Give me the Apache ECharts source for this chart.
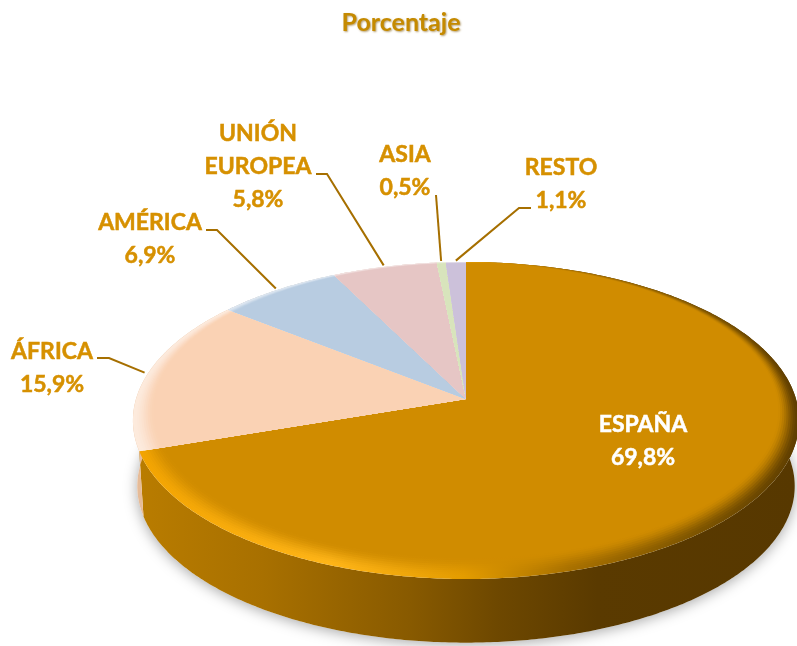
<!DOCTYPE html>
<html>
<head>
<meta charset="utf-8">
<style>html,body{margin:0;padding:0;background:#fff}#chart{width:797px;height:646px}</style>
<script src="https://cdn.jsdelivr.net/npm/echarts@6/dist/echarts.min.js"></script>
</head>
<body>
<div id="chart"></div>
<script>
var categories = ['ESPAÑA', 'ÁFRICA', 'AMÉRICA', 'UNIÓN\nEUROPEA', 'ASIA', 'RESTO'];
var values = [69.8, 15.9, 6.9, 5.8, 0.5, 1.1];
var colors = ['#d08c00', '#fad2b4', '#b8cce1', '#e6c6c5', '#d8e4bc', '#ccc1da'];
var labelColor = '#d69000';

// pixel layout of the tilted disc
var cx = 466, cy = 399, rx = 330, ry = 155.6, tilt = 0.1356;
var depth = 66, lowScale = 0.987;

// label centre and leader elbow/end, by slice
var labelSpots = [
  { x: 643, y: 441 },
  { x: 52, y: 368, elbow: [109, 358], end: [97, 358] },
  { x: 150, y: 239, elbow: [217, 230], end: [206, 230] },
  { x: 258, y: 167, elbow: [327, 174], end: [316, 174] },
  { x: 405, y: 171, end: [436, 195] },
  { x: 561, y: 184, elbow: [519, 208], end: [531, 208] }
];

var total = values.reduce(function (a, b) { return a + b; }, 0);
var starts = [];
values.reduce(function (sum, v, i) { starts[i] = sum; return sum + v; }, 0);

function angle(p) { return p / total * Math.PI * 2; }

function project(t, r, low) {
  var u = Math.sin(t) * r, v = -Math.cos(t) * r;
  var w = 1 - tilt * v;
  var s = low ? lowScale : 1;
  return [cx + s * rx * u / w, cy + (low ? depth : 0) + s * ry * v / w];
}

// f: how far inside the bevel (0 = outer edge, 1 = inner edge)
function arcPoints(a, b, r, low, f) {
  var n = Math.max(2, Math.ceil(Math.abs(b - a) / 0.01));
  var pts = [];
  for (var i = 0; i <= n; i++) {
    var t = a + (b - a) * i / n;
    var bevel = f ? f * (0.012 + 0.045 * (1 - Math.cos(t))) : 0;
    pts.push(project(t, r - bevel, low));
  }
  return pts;
}

function mix(c1, c2, k) {
  var a = echarts.color.parse(c1), b = echarts.color.parse(c2);
  return 'rgb(' + [0, 1, 2].map(function (i) {
    return Math.round(a[i] + (b[i] - a[i]) * k);
  }).join(',') + ')';
}

function hGradient(stops) {
  return {
    type: 'linear', x: 130, y: 0, x2: 797, y2: 0, global: true,
    colorStops: stops.map(function (s) { return { offset: s[0], color: s[1] }; })
  };
}

// rim colours for the big slice, left to right
var rimStops = [[0, '#f2a300'], [0.3, '#ffb518'], [0.5, '#e49c00'], [0.66, '#a87000'], [0.85, '#7d5400'], [1, '#5f3e00']];
var sideStops = [[0, '#ba7d00'], [0.2, '#a87000'], [0.42, '#885a00'], [0.55, '#6e4800'], [0.7, '#5a3a00'], [1, '#573800']];

function renderSide(params) {
  var i = params.dataIndex;
  var a = angle(starts[i]), b = angle(starts[i] + values[i]);
  var pts = arcPoints(a, b, 1, false).concat(arcPoints(b, a, 1, true));
  var fill = i === 0 ? hGradient(sideStops) : mix(colors[i], '#a06a30', 0.22);
  var children = [{ type: 'polygon', shape: { points: pts }, style: { fill: fill } }];
  if (i === 0) {
    children.unshift({
      type: 'polygon',
      shape: { points: arcPoints(0, Math.PI * 2, 1, true) },
      style: { fill: '#fff', shadowBlur: 14, shadowColor: 'rgba(0,0,0,0.35)', shadowOffsetY: 2 }
    });
  }
  return { type: 'group', children: children };
}

function renderTop(params) {
  var i = params.dataIndex;
  var a = angle(starts[i]), b = angle(starts[i] + values[i]);
  var children = [];
  var bands = 10;
  for (var j = 0; j <= bands; j++) {
    var k = 1 - j / bands;
    k = k * k * (3 - 2 * k);
    var fill;
    if (i === 0) {
      fill = hGradient(rimStops.map(function (s) { return [s[0], mix(colors[0], s[1], k)]; }));
    } else {
      fill = mix(colors[i], '#ffffff', k * 0.55);
    }
    children.push({
      type: 'polygon',
      shape: { points: [[cx, cy]].concat(arcPoints(a, b, 1, false, j / bands)) },
      style: { fill: fill }
    });
  }
  return { type: 'group', children: children };
}

function renderLabel(params) {
  var i = params.dataIndex;
  var spot = labelSpots[i];
  var textColor = i === 0 ? '#fff' : labelColor;
  var children = [{
    type: 'text',
    style: {
      x: spot.x,
      y: spot.y,
      text: categories[i] + '\n' + values[i].toFixed(1).replace('.', ',') + '%',
      fill: textColor,
      stroke: textColor,
      lineWidth: 0.5,
      font: 'bold 23px Lato',
      lineHeight: 33,
      align: 'center',
      verticalAlign: 'middle'
    }
  }];
  if (spot.end) {
    var pts = [project(angle(starts[i] + values[i] / 2), 1.012, false)];
    if (spot.elbow) pts.push(spot.elbow);
    pts.push(spot.end);
    children.push({
      type: 'polyline',
      shape: { points: pts },
      style: { stroke: '#a66f00', lineWidth: 2, fill: null }
    });
  }
  return { type: 'group', children: children };
}

var myChart = echarts.init(document.getElementById('chart'));
var option = {
  animation: false,
  backgroundColor: '#fff',
  title: {
    text: 'Porcentaje',
    left: 396,
    top: 5,
    textAlign: 'center',
    textStyle: {
      fontFamily: 'Lato',
      fontWeight: 'bold',
      fontSize: 25,
      color: '#c58a00',
      textShadowColor: 'rgba(120,80,0,0.55)',
      textShadowBlur: 2,
      textShadowOffsetX: 1,
      textShadowOffsetY: 1
    }
  },
  series: [
    { type: 'custom', coordinateSystem: 'none', data: values, renderItem: renderSide, silent: true, z: 1 },
    { type: 'custom', coordinateSystem: 'none', data: values, renderItem: renderTop, silent: true, z: 2 },
    { type: 'custom', coordinateSystem: 'none', data: values, renderItem: renderLabel, silent: true, z: 3 }
  ]
};
myChart.setOption(option);
</script>
</body>
</html>
